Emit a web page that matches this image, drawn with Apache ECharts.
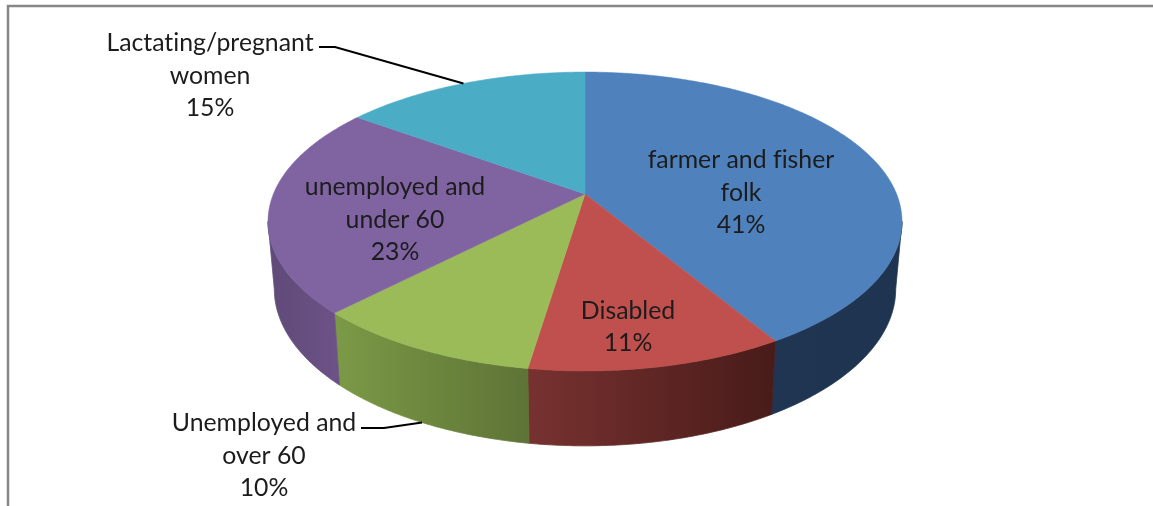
<!DOCTYPE html>
<html>
<head>
    <meta charset="utf-8">
    <script src="https://cdn.jsdelivr.net/npm/echarts@6/dist/echarts.min.js"></script>
    <style>
        html, body { margin: 0; padding: 0; background: #fff; }
    </style>
</head>

<body>
<div id="main" style="width: 1153px;height:506px;"></div>
<script type="text/javascript">
    // chart data, clockwise from 12 o'clock
    var names = ['farmer and fisher\nfolk', 'Disabled', 'Unemployed and\nover 60', 'unemployed and\nunder 60', 'Lactating/pregnant\nwomen'];
    var values = [41.4, 11.0, 9.9, 22.7, 15.0];

    // slice styles
    var topColors = ['#4f81bd', '#c0504d', '#9bbb59', '#8064a2', '#4bacc6'];
    var wallColors = [
        ['#1f3552', '#1f3450'],
        ['#773230', '#481b19'],
        ['#7b9a46', '#5e7336'],
        ['#5f4a78', '#6d5287'],
        ['#35798c', '#35798c']
    ];

    // label centres, and the elbow of the leader line where there is one
    var labelPos = [[741, 193], [628, 327], [264, 456], [395, 220], [210, 76]];
    var leaders = [null, null, [[361, 428], [384, 428]], null, [[319, 47], [335, 47]]];

    // the tilted pie: circle centre on screen, half width, half depth, perspective
    var cx = 585, cy = 194, A = 311.6, B = 144.4, k = 0.184;
    var total = values.reduce(function (a, b) { return a + b; }, 0);

    // the wall only shows between the two widest points of the rim
    var wallFrom = Math.acos(-k), wallTo = Math.PI * 2 - wallFrom;

    function angleAt(cum) {
        return echarts.number.linearMap(cum, [0, total], [0, Math.PI * 2]);
    }
    function cumBefore(i) {
        var s = 0;
        for (var j = 0; j < i; j++) s += values[j];
        return s;
    }
    function topPoint(a) {
        var w = 1 + k * Math.cos(a);
        return [cx + A * Math.sin(a) / w, cy - B * Math.cos(a) / w];
    }
    // rim of the underside, a bit narrower and further down
    function bottomPoint(a) {
        var p = topPoint(a);
        return [cx + (p[0] - cx) * 0.98, cy + 66 + (p[1] - cy) * 1.05];
    }
    function arcPoints(a0, a1, fn) {
        var pts = [], n = Math.ceil(Math.abs(a1 - a0) / 0.01);
        for (var i = 0; i <= n; i++) pts.push(fn(a0 + (a1 - a0) * i / n));
        return pts;
    }

    function renderWall(params, api) {
        var i = params.dataIndex;
        var a0 = Math.max(angleAt(cumBefore(i)), wallFrom);
        var a1 = Math.min(angleAt(cumBefore(i) + api.value(0)), wallTo);
        if (a1 <= a0) return null;
        var pts = arcPoints(a0, a1, topPoint).concat(arcPoints(a1, a0, bottomPoint));
        var c = wallColors[i];
        var fill = new echarts.graphic.LinearGradient(0, 0, 1, 0, [
            { offset: 0, color: c[0] }, { offset: 1, color: c[1] }
        ]);
        return { type: 'polygon', shape: { points: pts }, style: { fill: fill, stroke: fill, lineWidth: 0.5 } };
    }

    function renderTop(params, api) {
        var i = params.dataIndex;
        var a0 = angleAt(cumBefore(i)), a1 = angleAt(cumBefore(i) + api.value(0));
        var pts = [[cx, cy]].concat(arcPoints(a0, a1, topPoint));
        return { type: 'polygon', shape: { points: pts }, style: { fill: topColors[i], stroke: topColors[i], lineWidth: 0.5 } };
    }

    function renderLabel(params, api) {
        var i = params.dataIndex;
        var pct = Math.round(api.value(0) / total * 100);
        var children = [{
            type: 'text',
            x: labelPos[i][0],
            y: labelPos[i][1],
            style: {
                text: names[i] + '\n' + pct + '%',
                font: '24.8px Lato',
                lineHeight: 32.5,
                fill: '#1c1c1c',
                align: 'center',
                verticalAlign: 'middle'
            }
        }];
        if (leaders[i]) {
            var mid = angleAt(cumBefore(i) + api.value(0) / 2);
            // lower labels point at the wall, upper ones at the top face
            var end = Math.cos(mid) < 0 ? bottomPoint(mid) : topPoint(mid);
            children.push({
                type: 'polyline',
                shape: { points: leaders[i].concat([end]) },
                style: { fill: null, stroke: '#000', lineWidth: 2 }
            });
        }
        return { type: 'group', children: children };
    }

    var myChart = echarts.init(document.getElementById('main'));
    var option = {
        animation: false,
        graphic: [{
            type: 'polyline',
            silent: true,
            shape: { points: [[8, 506], [8, 6], [1153, 6]] },
            style: { fill: null, stroke: '#868686', lineWidth: 2.5 }
        }],
        series: [
            { type: 'custom', coordinateSystem: 'none', z: 1, silent: true, data: values, renderItem: renderWall },
            { type: 'custom', coordinateSystem: 'none', z: 2, silent: true, data: values, renderItem: renderTop },
            { type: 'custom', coordinateSystem: 'none', z: 3, silent: true, data: values, renderItem: renderLabel }
        ]
    };
    myChart.setOption(option);

    // Lato's fi/ti ligatures look wrong here: the canvas only exists after the
    // first draw, so switch them off there and draw again
    myChart.getDom().querySelector('canvas').getContext('2d').textRendering = 'optimizeSpeed';
    myChart.setOption(option, true);
</script>
</body>
</html>
